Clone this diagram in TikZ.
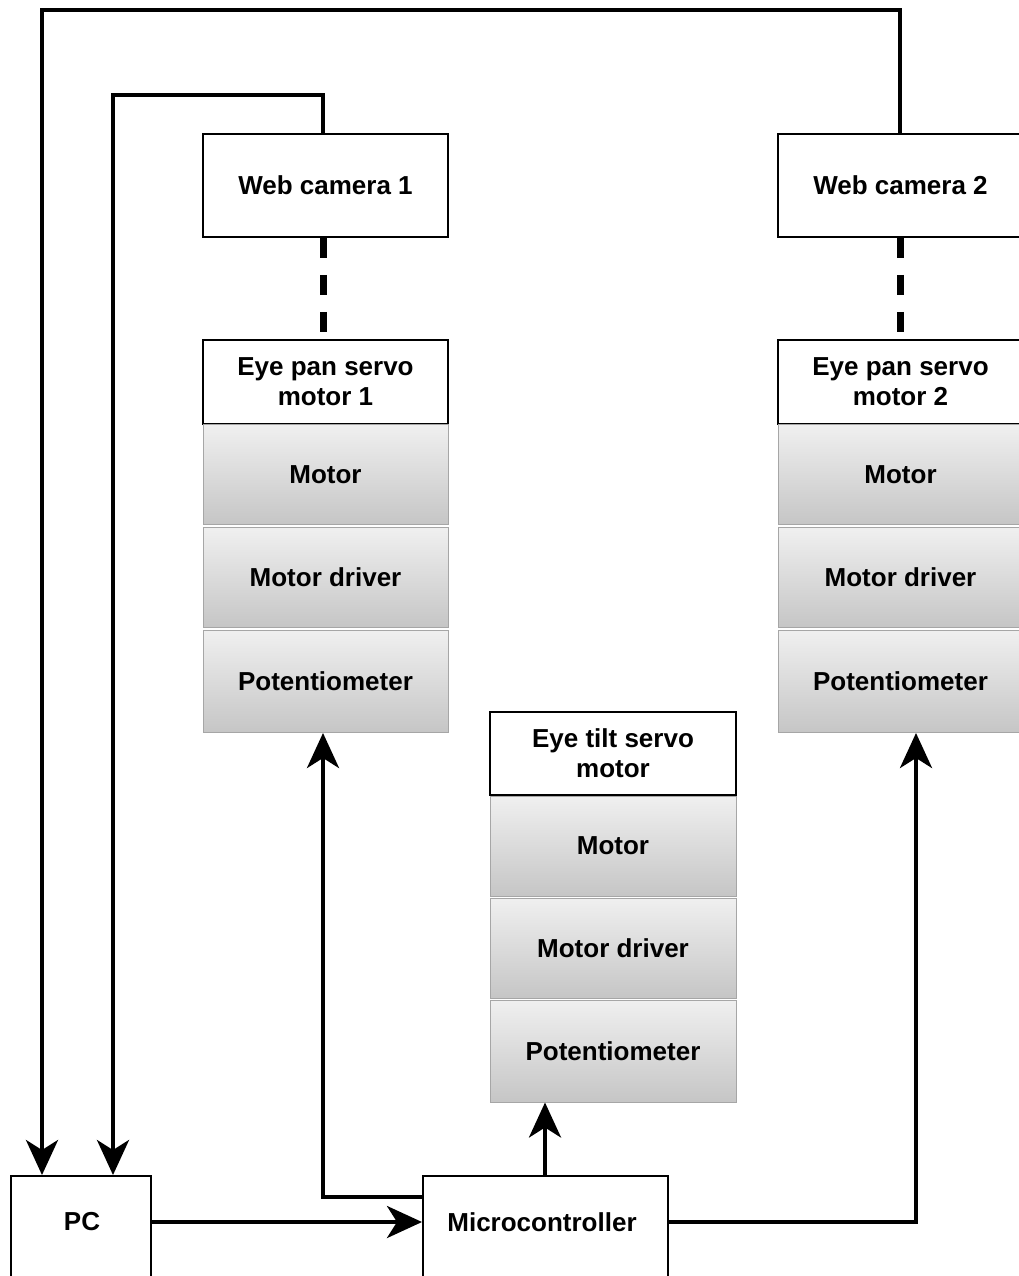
\documentclass[tikz,border=0pt]{standalone}
\usepackage{fontspec}
\setmainfont{Liberation Sans}
\usetikzlibrary{arrows.meta}
\tikzset{
  labelfont/.style={font=\bfseries\fontsize{26}{30}\selectfont},
  whitebox/.style={draw=black, line width=1.5pt, fill=white, inner sep=0pt,
    labelfont, align=center},
  graybox/.style={draw=gray!70, line width=1pt, inner sep=0pt,
    top color=gray!12, bottom color=gray!45, labelfont, align=center},
  wire/.style={line width=4pt},
  arrowwire/.style={line width=4pt, -{Stealth[length=35pt, width=32pt, inset=10pt]}},
  dashwire/.style={line width=7pt, dash pattern=on 20pt off 17pt},
}
\begin{document}
\begin{tikzpicture}[x=1pt, y=-1pt]
\useasboundingbox (0,0) rectangle (1019,1276);
\fill[white] (0,0) rectangle (1019,1276);
\clip (0,0) rectangle (1019,1276);

% cameras
\node[whitebox, minimum width=245pt, minimum height=103pt] (cam1) at (325.5,185.5) {Web camera 1};
\node[whitebox, minimum width=245pt, minimum height=103pt] (cam2) at (900.5,185.5) {Web camera 2};

% pan servo 1
\node[whitebox, minimum width=245pt, minimum height=84pt] (pan1) at (325.5,382) {Eye pan servo\\motor 1};
\node[graybox, minimum width=245pt, minimum height=100pt] (pan1m) at (325.5,474.5) {Motor};
\node[graybox, minimum width=245pt, minimum height=100pt] (pan1d) at (325.5,577.5) {Motor driver};
\node[graybox, minimum width=245pt, minimum height=102pt] (pan1p) at (325.5,681.5) {Potentiometer};

% pan servo 2
\node[whitebox, minimum width=245pt, minimum height=84pt] (pan2) at (900.5,382) {Eye pan servo\\motor 2};
\node[graybox, minimum width=245pt, minimum height=100pt] (pan2m) at (900.5,474.5) {Motor};
\node[graybox, minimum width=245pt, minimum height=100pt] (pan2d) at (900.5,577.5) {Motor driver};
\node[graybox, minimum width=245pt, minimum height=102pt] (pan2p) at (900.5,681.5) {Potentiometer};

% tilt servo
\node[whitebox, minimum width=246pt, minimum height=83pt] (tilt) at (613,753.5) {Eye tilt servo\\motor};
\node[graybox, minimum width=246pt, minimum height=100pt] (tiltm) at (613,846) {Motor};
\node[graybox, minimum width=246pt, minimum height=100pt] (tiltd) at (613,948) {Motor driver};
\node[graybox, minimum width=246pt, minimum height=102pt] (tiltp) at (613,1051) {Potentiometer};

% PC and microcontroller
\node[whitebox, minimum width=140pt, minimum height=140pt, anchor=north west] (pc) at (10,1175) {};
\node[labelfont] (pclabel) at (82,1222) {PC};
\node[whitebox, minimum width=245pt, minimum height=140pt, anchor=north west] (mcu) at (422,1175) {};
\node[labelfont] (mculabel) at (542,1222) {Microcontroller};

% camera links to the servos
\draw[dashwire] (cam1.south -| 323,0) -- (pan1.north -| 323,0);
\draw[dashwire] (cam2.south -| 900,0) -- (pan2.north -| 900,0);

% camera signals back to the PC
\coordinate (pcin1) at (42,1175);
\coordinate (pcin2) at (113,1175);
\draw[arrowwire] (cam2.north -| 900,0) -- (900,10) -- (42,10) -- (pcin1);
\draw[arrowwire] (cam1.north -| 323,0) -- (323,95) -- (113,95) -- (pcin2);

% PC to microcontroller
\coordinate (pcout) at (150,1222);
\coordinate (mcuin) at (422,1222);
\draw[arrowwire] (pcout) -- (mcuin);

% microcontroller to the three servos
\coordinate (mculeft) at (422,1197);
\draw[arrowwire] (mculeft) -- (323,1197) -- (pan1p.south -| 323,0);
\draw[arrowwire] (mcu.north -| 545,0) -- (tiltp.south -| 545,0);
\coordinate (mcuright) at (667,1222);
\draw[arrowwire] (mcuright) -- (916,1222) -- (pan2p.south -| 916,0);
\end{tikzpicture}
\end{document}
